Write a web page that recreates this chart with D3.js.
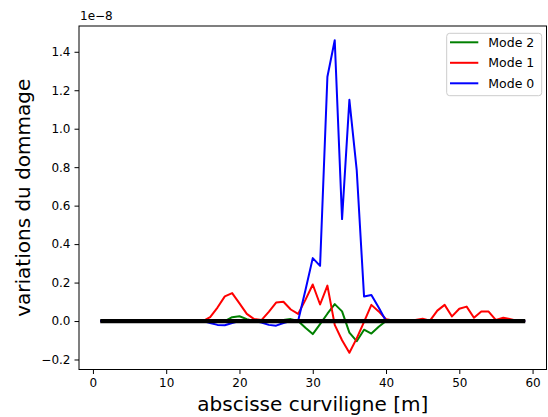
<!DOCTYPE html>
<html><head><meta charset="utf-8">
<script src="https://cdn.jsdelivr.net/npm/d3@7"></script>
<style>body{margin:0;background:#fff}svg{display:block}text{font-family:"DejaVu Sans",sans-serif}</style>
</head><body><svg id="c" width="548" height="417"></svg>
<script>
const xs = d3.range(1, 60);
// values in units of 1e-8, x = 1..59
const mode2 = [0,0,0,0,0,0,0,0,0,0, 0,0,0,0,0,0,0,0,0.02,0.025, 0.01,0,0,0,0,0.005,0.01,0,-0.035,-0.068, -0.016,0.038,0.088,0.05,-0.06,-0.105,-0.045,-0.065,-0.03,0, 0,0,0,0,0,0,0,0,0,0, 0,0,0,0,0,0,0,0,0];
const mode1 = [0,0,0,0,0,0,0,0,0,0, 0,0,0,0,0,0.02,0.07,0.128,0.145,0.092, 0.037,0.01,0.005,0.048,0.096,0.1,0.06,0.037,0.11,0.19, 0.086,0.184,-0.02,-0.1,-0.165,-0.09,-0.004,0.084,0.05,0.009, 0.003,0,0,0.005,0.012,0.002,0.054,0.084,0.024,0.064, 0.075,0.017,0.049,0.049,0.005,0.017,0.01,0,0];
const mode0 = [0,0,0,0,0,0,0,0,0,0, 0,0,0,0,0,-0.01,-0.02,-0.022,-0.01,0, 0,0,-0.008,-0.02,-0.024,-0.01,0,0,0.16,0.327, 0.287,1.27,1.46,0.53,1.15,0.785,0.128,0.135,0.07,0, 0,0,0,0,0,0,0,0,0,0, 0,0,0,0,0,0,0,0,0];
const baseline = xs.map(() => 0);
const xTicks = [0,10,20,30,40,50,60];
const yTicks = [-0.2,0,0.2,0.4,0.6,0.8,1.0,1.2,1.4];
const series = [
  {name:"Mode 2", values: mode2, color:"green"},
  {name:"Mode 1", values: mode1, color:"red"},
  {name:"Mode 0", values: mode0, color:"blue"}
];

const svg = d3.select("#c");
const L = 79, R = 546.5, T = 26, B = 369.5;
const x = d3.scaleLinear().domain([-1.9, 61.9]).range([L, R]);
const y = d3.scaleLinear().domain([-0.252, 1.534]).range([B, T]);
const fmtY = d => d3.format(".1f")(d).replace("-", "\u2212");

const gx = svg.append("g").attr("transform", `translate(0,${B})`)
  .call(d3.axisBottom(x).tickValues(xTicks).tickSize(4.5).tickPadding(4).tickFormat(d3.format("d")));
const gy = svg.append("g").attr("transform", `translate(${L},0)`)
  .call(d3.axisLeft(y).tickValues(yTicks).tickSize(4.5).tickPadding(4).tickFormat(fmtY));
[gx, gy].forEach(g => {
  g.select(".domain").remove();
  g.selectAll("line").attr("stroke", "#000").attr("stroke-width", 1);
  g.selectAll("text").attr("fill", "#000").style("font-size", "12px").style("font-family", "DejaVu Sans");
});

const line = d3.line().x((d, i) => x(xs[i])).y(d => y(d));
const plot = svg.append("g");
series.forEach(s => {
  plot.append("path").attr("d", line(s.values)).attr("fill", "none")
    .attr("stroke", s.color).attr("stroke-width", 2).attr("stroke-linejoin", "round");
});
plot.append("path").attr("d", line(baseline)).attr("fill", "none")
  .attr("stroke", "#000").attr("stroke-width", 4.2);

svg.append("rect").attr("x", L).attr("y", T).attr("width", R - L).attr("height", B - T)
  .attr("fill", "none").attr("stroke", "#000").attr("stroke-width", 1);

svg.append("text").attr("x", L + 1).attr("y", T - 6).style("font-size", "12px").text("1e\u22128");
svg.append("text").attr("x", (L + R) / 2).attr("y", 411).attr("text-anchor", "middle")
  .style("font-size", "20px").text("abscisse curviligne [m]");
svg.append("text").attr("transform", `translate(30,${(T + B) / 2}) rotate(-90)`).attr("text-anchor", "middle")
  .style("font-size", "20px").text("variations du dommage");

const lg = svg.append("g");
lg.append("rect").attr("x", 446.7).attr("y", 33.3).attr("width", 95).attr("height", 62.4)
  .attr("rx", 3).attr("fill", "#fff").attr("fill-opacity", 0.8).attr("stroke", "#ccc");
series.forEach((s, i) => {
  const yy = 42.3 + i * 20.5;
  lg.append("line").attr("x1", 450).attr("x2", 478.3).attr("y1", yy).attr("y2", yy)
    .attr("stroke", s.color).attr("stroke-width", 2);
  lg.append("text").attr("x", 488.3).attr("y", yy).attr("dy", "0.36em").style("font-size", "12.5px").text(s.name);
});
</script></body></html>
